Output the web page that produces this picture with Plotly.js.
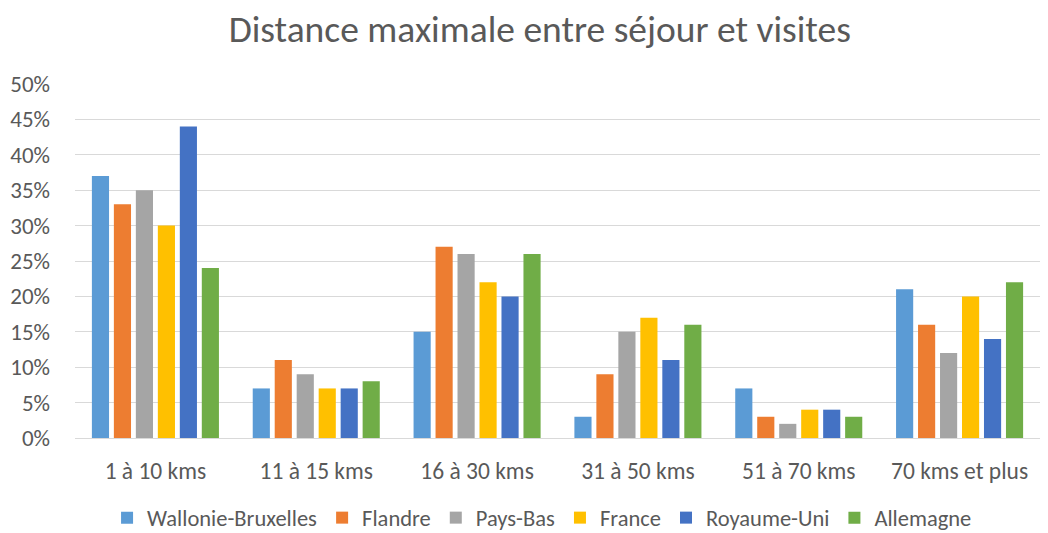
<!DOCTYPE html>
<html>
<head>
<meta charset="utf-8">
<script src="https://cdn.plot.ly/plotly-3.0.1.min.js"></script>
<style>html,body{margin:0;padding:0;background:#fff;}#chart{width:1048px;height:533px;}</style>
</head>
<body>
<div id="chart"></div>
<script>
var categories = ["1 à 10 kms", "11 à 15 kms", "16 à 30 kms", "31 à 50 kms", "51 à 70 kms", "70 kms et plus"];
var seriesNames = ["Wallonie-Bruxelles", "Flandre", "Pays-Bas", "France", "Royaume-Uni", "Allemagne"];
var walloniBruxelles = [0.37, 0.07, 0.15, 0.03, 0.07, 0.21];
var flandre = [0.33, 0.11, 0.27, 0.09, 0.03, 0.16];
var paysBas = [0.35, 0.09, 0.26, 0.15, 0.02, 0.12];
var france = [0.30, 0.07, 0.22, 0.17, 0.04, 0.20];
var royaumeUni = [0.44, 0.07, 0.20, 0.11, 0.04, 0.14];
var allemagne = [0.24, 0.08, 0.26, 0.16, 0.03, 0.22];
var colors = ["#5B9BD5", "#ED7D31", "#A5A5A5", "#FFC000", "#4472C4", "#70AD47"];
var allValues = [walloniBruxelles, flandre, paysBas, france, royaumeUni, allemagne];
var yTickVals = [0, 0.05, 0.10, 0.15, 0.20, 0.25, 0.30, 0.35, 0.40, 0.45, 0.50];
var yTickText = ["0%", "5%", "10%", "15%", "20%", "25%", "30%", "35%", "40%", "45%", "50%"];

var fontFam = "Carlito, Calibri, 'Open Sans', sans-serif";
var traces = seriesNames.map(function(n, i){
  return {type: "bar", name: n, x: categories, y: allValues[i],
    marker: {color: colors[i], line: {width: 0}}, hoverinfo: "skip"};
});
var layout = {
  width: 1048, height: 533,
  paper_bgcolor: "#fff", plot_bgcolor: "#fff",
  margin: {l: 75, r: 8, t: 84, b: 95, autoexpand: false},
  title: {text: "Distance maximale entre séjour et visites", x: 0.515, xanchor: "center", y: 0.945, yanchor: "middle",
    font: {family: fontFam, size: 37.5, color: "#595959"}},
  barmode: "group", bargap: 0.18, bargroupgap: 0.22,
  xaxis: {type: "category", showgrid: false, showline: true, linecolor: "#D9D9D9", linewidth: 1,
    ticks: "", tickfont: {family: fontFam, size: 23.5, color: "#595959"}, ticklabelstandoff: 12, automargin: false},
  yaxis: {range: [0, 0.5], tickvals: yTickVals, ticktext: yTickText, showgrid: true, gridcolor: "#D9D9D9", gridwidth: 1,
    zeroline: false, showline: false, ticks: "", tickfont: {family: fontFam, size: 23, color: "#595959"}, ticklabelstandoff: 24, automargin: false},
  legend: {orientation: "h", x: 0.484, xanchor: "center", y: -0.226, yanchor: "middle",
    font: {family: fontFam, size: 22.5, color: "#595959"}, itemwidth: 30, tracegroupgap: 0},
  showlegend: true
};
Plotly.newPlot("chart", traces, layout, {displayModeBar: false, staticPlot: true});
</script>
</body>
</html>
